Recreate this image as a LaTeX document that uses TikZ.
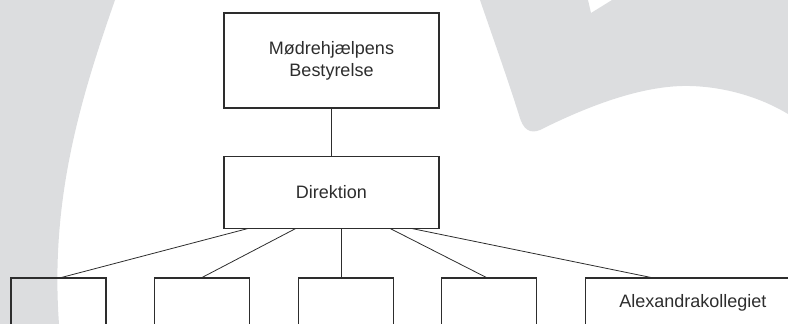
\documentclass[tikz,border=0pt]{standalone}
\usepackage{fontspec}
\setmainfont{Liberation Sans}
\usetikzlibrary{positioning}

\definecolor{logograa}{RGB}{220,221,223}
\definecolor{stregfarve}{RGB}{45,45,45}

\begin{document}
\begin{tikzpicture}[x=1pt, y=-1pt,
    boks/.style={rectangle, draw=stregfarve, line width=1.1pt, minimum width=95pt, minimum height=50pt,
                 inner sep=0pt, align=center, text=stregfarve, font=\fontsize{18}{22}\selectfont},
    stor/.style={boks, minimum width=215pt},
    linje/.style={draw=stregfarve, line width=0.8pt}]
					\useasboundingbox (0,0) rectangle (788,324);
					\clip (0,0) rectangle (788,324);

					% Baggrund (logo)
					\fill[logograa] (0,0) -- (115,0) .. controls (80,100) and (50,200) .. (59,324) -- (0,324) -- cycle;
					\fill[logograa] (480,0) .. controls (492,35) and (508,80) .. (519,115)
					  .. controls (523,130) and (530,134) .. (540,130)
					  .. controls (600,100) and (650,85) .. (690,86)
					  .. controls (730,87) and (765,100) .. (788,114)
					  -- (788,0) -- (612,0) -- (591,13) -- (588,0) -- cycle;

					% Bestyrelse og direktion
					\node[stor, minimum height=95pt] (bestyrelse) at (331.5,60.5) {Mødrehjælpens\\Bestyrelse};
					\node[stor, minimum height=72pt, below=47pt of bestyrelse] (direktion) {Direktion};

					% Enheder
					\node[boks] (enhed1) at (58.5,303) {};
					\node[boks, right=47.5pt of enhed1] (enhed2) {};
					\node[boks, right=47.5pt of enhed2] (enhed3) {};
					\node[boks, right=47.5pt of enhed3] (enhed4) {};
					\node[stor, right=47.5pt of enhed4] (kollegiet) {Alexandrakollegiet};

					% Forbindelser
					\draw[linje] (bestyrelse) -- (direktion);
					\draw[linje] ([xshift=24pt]direktion.south west) -- ([xshift=3pt]enhed1.north);
					\draw[linje] ([xshift=72pt]direktion.south west) -- (enhed2.north);
					\draw[linje] ([xshift=118pt]direktion.south west) coordinate (midt) -- (midt |- enhed3.north);
					\draw[linje] ([xshift=167pt]direktion.south west) -- ([xshift=-3pt]enhed4.north);
					\draw[linje] ([xshift=189pt]direktion.south west) -- ([xshift=-42pt]kollegiet.north);
				\end{tikzpicture}
\end{document}
